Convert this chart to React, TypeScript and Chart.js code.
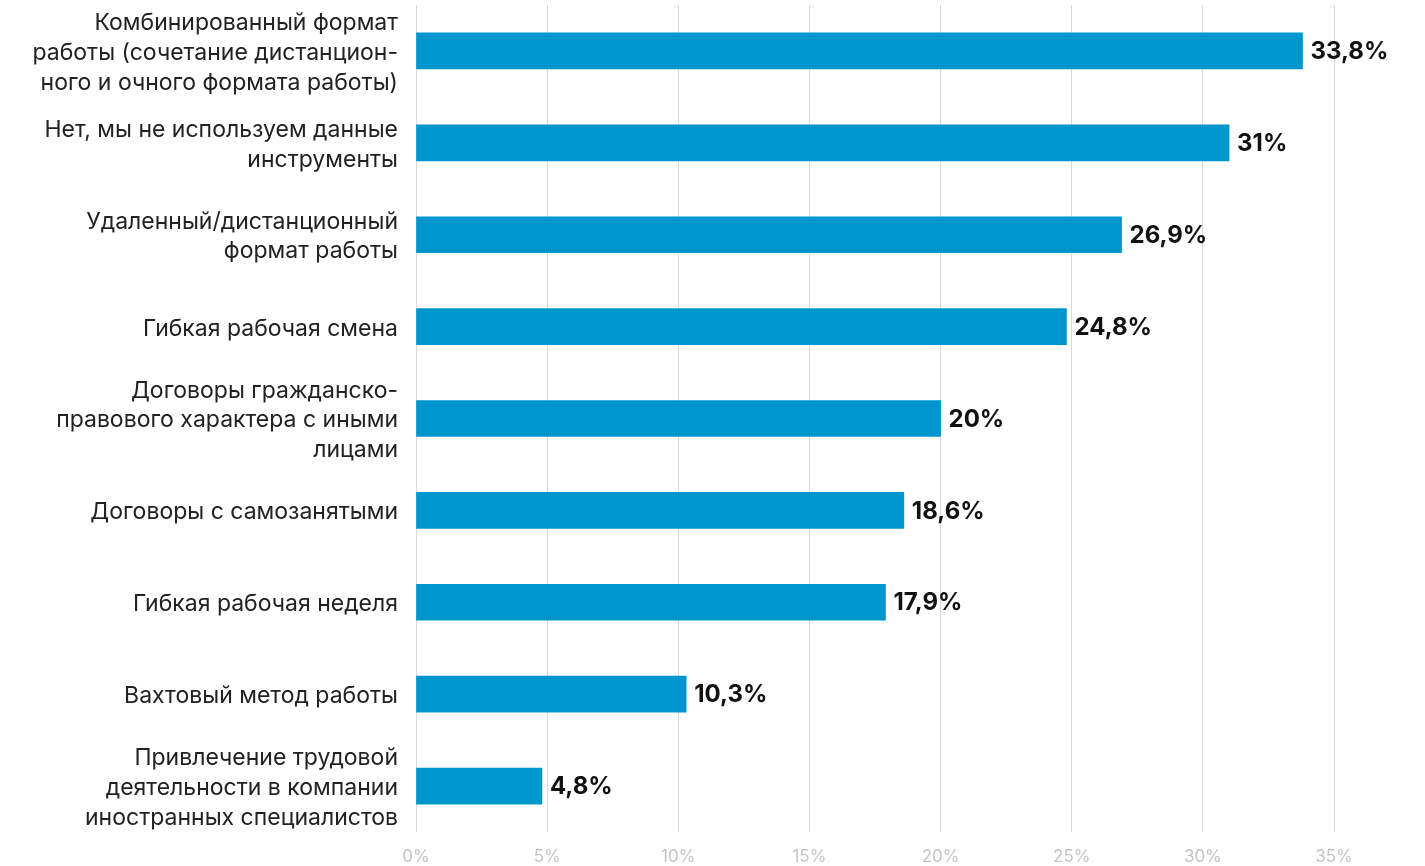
import React, { useEffect, useRef } from "react";
import { Chart, registerables } from "chart.js";

Chart.register(...registerables);

const categories: (string | string[])[] = [
  ["Комбинированный формат", "работы (сочетание дистанцион-", "ного и очного формата работы)"],
  ["Нет, мы не используем данные", "инструменты"],
  ["Удаленный/дистанционный", "формат работы"],
  "Гибкая рабочая смена",
  ["Договоры гражданско-", "правового характера с иными", "лицами"],
  "Договоры с самозанятыми",
  "Гибкая рабочая неделя",
  "Вахтовый метод работы",
  ["Привлечение трудовой", "деятельности в компании", "иностранных специалистов"],
];

const values: number[] = [33.8, 31, 26.9, 24.8, 20, 18.6, 17.9, 10.3, 4.8];

const xTicks: number[] = [0, 5, 10, 15, 20, 25, 30, 35];

const BAR_COLOR = "#0096cd";
const FONT = "Inter, 'Noto Sans', sans-serif";

const fmt = (v: number) => String(v).replace(".", ",") + "%";

const valueLabels = {
  id: "valueLabels",
  afterDatasetsDraw(chart: any) {
    const { ctx } = chart;
    const meta = chart.getDatasetMeta(0);
    ctx.save();
    ctx.font = `700 24px ${FONT}`;
    ctx.fillStyle = "#111111";
    ctx.textAlign = "left";
    ctx.textBaseline = "middle";
    meta.data.forEach((bar: any, i: number) => {
      ctx.fillText(fmt(values[i]), bar.x + 8, bar.y + 1);
    });
    ctx.restore();
  },
};

export default function App() {
  const ref = useRef<HTMLCanvasElement | null>(null);

  useEffect(() => {
    if (!ref.current) return;
    const chart = new Chart(ref.current, {
      type: "bar",
      data: {
        labels: categories,
        datasets: [
          {
            data: values,
            backgroundColor: BAR_COLOR,
            borderWidth: 0,
            barThickness: 36,
          },
        ],
      },
      options: {
        indexAxis: "y",
        animation: false,
        responsive: true,
        maintainAspectRatio: false,
        layout: { padding: { top: 5, right: 91, left: 0, bottom: 0 } },
        plugins: {
          legend: { display: false },
          tooltip: { enabled: false },
        },
        scales: {
          x: {
            min: 0,
            max: 35,
            afterBuildTicks: (scale: any) => {
              scale.ticks = xTicks.map((v) => ({ value: v }));
            },
            afterFit: (scale: any) => {
              scale.height = 34;
              scale.paddingLeft = 0;
              scale.paddingRight = 0;
            },
            grid: { color: "#dadada", lineWidth: 1, drawTicks: false },
            border: { display: false },
            ticks: {
              autoSkip: false,
              maxRotation: 0,
              padding: 15,
              color: "#c4c4c4",
              font: { family: FONT, size: 17 },
              callback: (v: any) => v + "%",
            },
          },
          y: {
            afterFit: (scale: any) => {
              scale.width = 416;
              scale.paddingTop = 0;
              scale.paddingBottom = 0;
            },
            grid: { display: false, drawTicks: false },
            border: { display: false },
            ticks: {
              autoSkip: false,
              padding: 18,
              labelOffset: 2,
              color: "#222222",
              font: { family: FONT, size: 23, lineHeight: 1.29 },
            },
          },
        },
      },
      plugins: [valueLabels],
    });
    return () => chart.destroy();
  }, []);

  return (
    <div style={{ position: "fixed", left: 0, top: 0, width: 1425, height: 866, background: "#fff" }}>
      <canvas ref={ref} />
    </div>
  );
}
